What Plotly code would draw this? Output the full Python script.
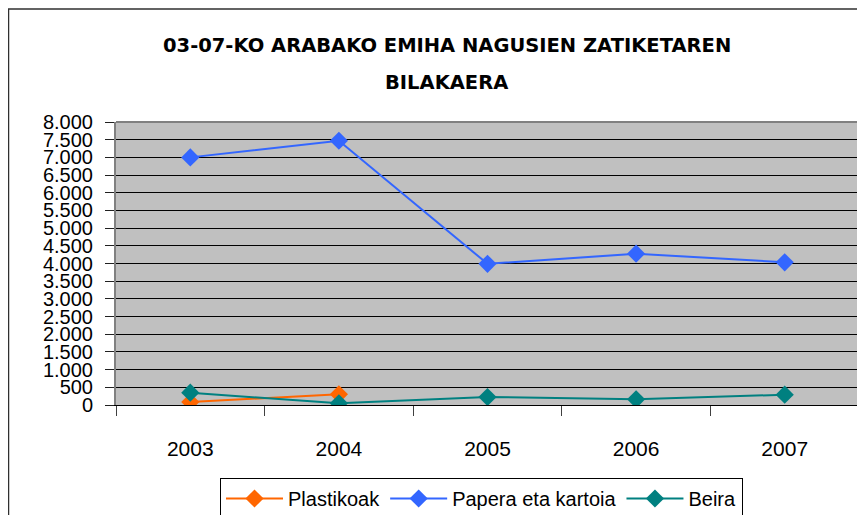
import plotly.graph_objects as go

years = ["2003", "2004", "2005", "2006", "2007"]
plastikoak = [85, 302, None, None, None]
papera = [7000, 7470, 3990, 4277, 4034]
beira = [348, 48, 226, 161, 291]
y_ticks = [0, 500, 1000, 1500, 2000, 2500, 3000, 3500, 4000, 4500, 5000, 5500, 6000, 6500, 7000, 7500, 8000]
y_labels = ["0", "500", "1.000", "1.500", "2.000", "2.500", "3.000", "3.500", "4.000",
            "4.500", "5.000", "5.500", "6.000", "6.500", "7.000", "7.500", "8.000"]
title_1 = "03-07-KO ARABAKO EMIHA NAGUSIEN ZATIKETAREN"
title_2 = "BILAKAERA"

# page body has an 8px margin: work in screen pixels, then shift
OFF = 8
W, H = 865 - OFF, 515 - OFF
L, R, T, B = 116 - OFF, 859 - OFF, 122 - OFF, 405 - OFF
pw, ph = R - L, B - T

def px(x):
    return (x - OFF - L) / pw

def py(y):
    return (B - (y - OFF)) / ph

fig = go.Figure()
series = [("Plastikoak", plastikoak, "#FF6600"),
          ("Papera eta kartoia", papera, "#3366FF"),
          ("Beira", beira, "#008080")]
for name, vals, col in series:
    fig.add_trace(go.Scatter(
        x=years, y=vals, name=name, mode="lines+markers",
        line=dict(color=col, width=2),
        marker=dict(symbol="diamond", size=14, color=col),
        connectgaps=False,
    ))

fig.update_layout(
    width=W, height=H,
    margin=dict(l=L, r=W - R, t=T, b=H - B, pad=0, autoexpand=False),
    paper_bgcolor="white",
    plot_bgcolor="#C0C0C0",
    showlegend=True,
    legend=dict(
        orientation="h", x=px(220), y=py(478), xanchor="left", yanchor="top",
        bgcolor="white", bordercolor="black", borderwidth=1,
        font=dict(family="Liberation Sans", size=20, color="black"),
        itemwidth=57, tracegroupgap=0,
    ),
    font=dict(family="Liberation Sans", color="black"),
)

fig.update_xaxes(
    type="category", range=[-0.5, 4.5], automargin=False,
    showgrid=False, showline=True, linecolor="black", linewidth=1,
    ticks="outside", tickson="boundaries", ticklen=10, tickcolor="#404040", tickwidth=1,
    tickfont=dict(family="Liberation Sans", size=21, color="black"),
    ticklabelstandoff=25,
)
fig.update_yaxes(
    range=[0, 8000], tickvals=y_ticks, ticktext=y_labels, automargin=False,
    showgrid=True, gridcolor="black", gridwidth=1,
    zeroline=False,
    showline=True, linecolor="#808080", linewidth=2, mirror=True,
    ticks="outside", ticklen=9, tickcolor="#202020", tickwidth=1,
    tickfont=dict(family="Liberation Sans", size=20, color="black"),
    ticklabelstandoff=8,
)

# top border of plot area
fig.add_shape(type="line", xref="paper", yref="paper", x0=0, x1=1, y0=1, y1=1,
              line=dict(color="#808080", width=2))
# outer chart border
fig.add_shape(type="rect", xref="paper", yref="paper",
              x0=px(8.5), x1=px(875), y0=py(530), y1=py(9),
              line=dict(color="#303030", width=1.5), layer="below")

fig.add_annotation(text="<b>" + title_1 + "</b>", xref="paper", yref="paper",
                   x=px(446.5), y=py(45), showarrow=False, xanchor="center", yanchor="middle",
                   font=dict(family="DejaVu Sans", size=19.5, color="black"))
fig.add_annotation(text="<b>" + title_2 + "</b>", xref="paper", yref="paper",
                   x=px(446.5), y=py(83), showarrow=False, xanchor="center", yanchor="middle",
                   font=dict(family="DejaVu Sans", size=19.5, color="black"))

fig.write_html("out.html")
